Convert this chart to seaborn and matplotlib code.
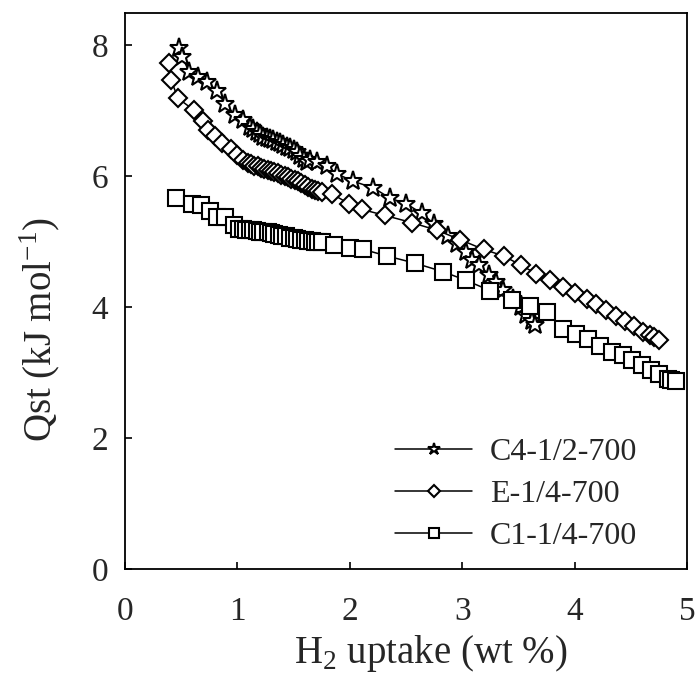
import pandas as pd
import matplotlib
matplotlib.use("Agg")
import matplotlib.pyplot as plt
import seaborn as sns

# C4-1/2-700 (star)
c4_x = [0.48, 0.51, 0.57, 0.65, 0.73, 0.82, 0.89, 0.98, 1.05, 1.11,
        1.14, 1.17, 1.20, 1.23, 1.26, 1.29, 1.32, 1.35, 1.38, 1.41,
        1.44, 1.47, 1.50, 1.53, 1.56, 1.59, 1.62, 1.65,
        1.71, 1.80, 1.89, 2.03, 2.21, 2.36, 2.50, 2.64, 2.75, 2.87,
        2.95, 3.03, 3.09, 3.15, 3.24, 3.30, 3.36, 3.45, 3.52, 3.57, 3.62, 3.65]
c4_y = [7.96, 7.82, 7.59, 7.52, 7.44, 7.30, 7.10, 6.93, 6.85, 6.75,
        6.72, 6.68, 6.64, 6.60, 6.58, 6.56, 6.55, 6.52, 6.50, 6.47,
        6.45, 6.43, 6.40, 6.36, 6.30, 6.26, 6.22, 6.24,
        6.22, 6.15, 6.03, 5.92, 5.82, 5.66, 5.58, 5.43, 5.27, 5.08,
        4.96, 4.84, 4.72, 4.64, 4.49, 4.39, 4.26, 4.13, 4.00, 3.88, 3.78, 3.72]

# E-1/4-700 (diamond)
e_x = [0.39, 0.41, 0.47, 0.61, 0.69, 0.74, 0.80, 0.86, 0.94, 1.00, 1.05,
       1.09, 1.12, 1.15, 1.18, 1.21, 1.24, 1.27, 1.30, 1.33, 1.36, 1.39,
       1.42, 1.45, 1.48, 1.51, 1.54, 1.57, 1.60, 1.63, 1.66, 1.69, 1.72, 1.75,
       1.84, 1.99, 2.11, 2.31, 2.55, 2.78, 2.98, 3.19, 3.37, 3.52, 3.66,
       3.78, 3.90, 4.00, 4.11, 4.19, 4.28, 4.37, 4.45, 4.53, 4.61, 4.67, 4.71, 4.75]
e_y = [7.72, 7.47, 7.19, 7.01, 6.84, 6.70, 6.61, 6.50, 6.42, 6.32, 6.24,
       6.20, 6.18, 6.16, 6.15, 6.13, 6.11, 6.09, 6.08, 6.06, 6.04, 6.02,
       6.00, 5.98, 5.96, 5.94, 5.92, 5.89, 5.86, 5.84, 5.81, 5.79, 5.77, 5.75,
       5.73, 5.58, 5.49, 5.40, 5.29, 5.17, 5.03, 4.88, 4.78, 4.64, 4.51,
       4.41, 4.31, 4.22, 4.13, 4.05, 3.95, 3.86, 3.79, 3.71, 3.62, 3.57, 3.54, 3.49]

# C1-1/4-700 (square)
c1_x = [0.45, 0.60, 0.68, 0.76, 0.82, 0.89, 0.97, 1.01,
        1.05, 1.08, 1.11, 1.14, 1.17, 1.20, 1.23, 1.27, 1.30, 1.33, 1.37,
        1.40, 1.43, 1.47, 1.50, 1.53, 1.57, 1.60, 1.63, 1.66, 1.69, 1.72, 1.75,
        1.86, 2.00, 2.12, 2.33, 2.58, 2.83, 3.03, 3.25, 3.44, 3.60, 3.75,
        3.90, 4.01, 4.12, 4.23, 4.33, 4.43, 4.51, 4.60, 4.68, 4.75, 4.83, 4.86, 4.90]
c1_y = [5.66, 5.57, 5.56, 5.46, 5.38, 5.38, 5.25, 5.19,
        5.19, 5.18, 5.18, 5.17, 5.16, 5.15, 5.15, 5.14, 5.13, 5.11, 5.10,
        5.09, 5.08, 5.06, 5.05, 5.04, 5.03, 5.02, 5.01, 5.01, 5.00, 5.00, 4.99,
        4.95, 4.90, 4.88, 4.78, 4.67, 4.54, 4.41, 4.25, 4.11, 4.02, 3.93,
        3.66, 3.59, 3.51, 3.40, 3.32, 3.27, 3.19, 3.11, 3.04, 2.98, 2.90, 2.88, 2.87]

labels = ["C4-1/2-700", "E-1/4-700", "C1-1/4-700"]

df = pd.concat([
    pd.DataFrame({"x": c4_x, "y": c4_y, "sample": labels[0]}),
    pd.DataFrame({"x": e_x, "y": e_y, "sample": labels[1]}),
    pd.DataFrame({"x": c1_x, "y": c1_y, "sample": labels[2]}),
])

sns.set_style("ticks")
plt.rcParams["font.family"] = ["Liberation Serif", "DejaVu Serif"]
plt.rcParams["mathtext.fontset"] = "custom"
plt.rcParams["mathtext.rm"] = "Liberation Serif"

fig = plt.figure(figsize=(6.97, 6.84), dpi=100)
ax = fig.add_axes([125 / 697, 1 - 569 / 684, 562 / 697, 556 / 684])

sns.lineplot(
    data=df, x="x", y="y", hue="sample", style="sample",
    palette=["black"] * 3, markers={labels[0]: "*", labels[1]: "D", labels[2]: "s"},
    dashes=False, estimator=None, sort=False, legend=False, ax=ax,
    linewidth=1.1, markersize=11, markerfacecolor="white",
    markeredgecolor="black", markeredgewidth=1.5,
)
# 마커 크기 조정
for line, ms in zip(ax.lines, [14, 9.5, 11]):
    line.set_markersize(ms)

ax.set_xlim(0, 5)
ax.set_ylim(0, 8.49)
ax.set_xticks([0, 1, 2, 3, 4, 5])
ax.set_yticks([0, 2, 4, 6, 8])
ax.tick_params(axis="both", direction="in", length=5, width=1.2,
               labelsize=24, color="black")
ax.tick_params(axis="y", pad=12)
ax.tick_params(axis="x", pad=20)
for s in ax.spines.values():
    s.set_linewidth(1.3)
    s.set_color("black")

ax.set_xlabel(r"H$_{\mathregular{2}}$ uptake (wt %)", fontsize=28)
ax.set_ylabel(r"Qst (kJ mol$^{\mathregular{-1}}$)", fontsize=28)
ax.xaxis.set_label_coords(0.543, -0.115)
ax.yaxis.set_label_coords(-0.11, 0.43)

ax.legend(handles=ax.lines, labels=labels, loc="lower right",
          bbox_to_anchor=(637 / 697, 1 - 551 / 684), bbox_transform=fig.transFigure,
          frameon=False, fontsize=23, markerscale=0.65, handlelength=2.4,
          handletextpad=0.55, labelspacing=0.4, borderaxespad=0, borderpad=0)

fig.savefig("out.png", dpi=100)
